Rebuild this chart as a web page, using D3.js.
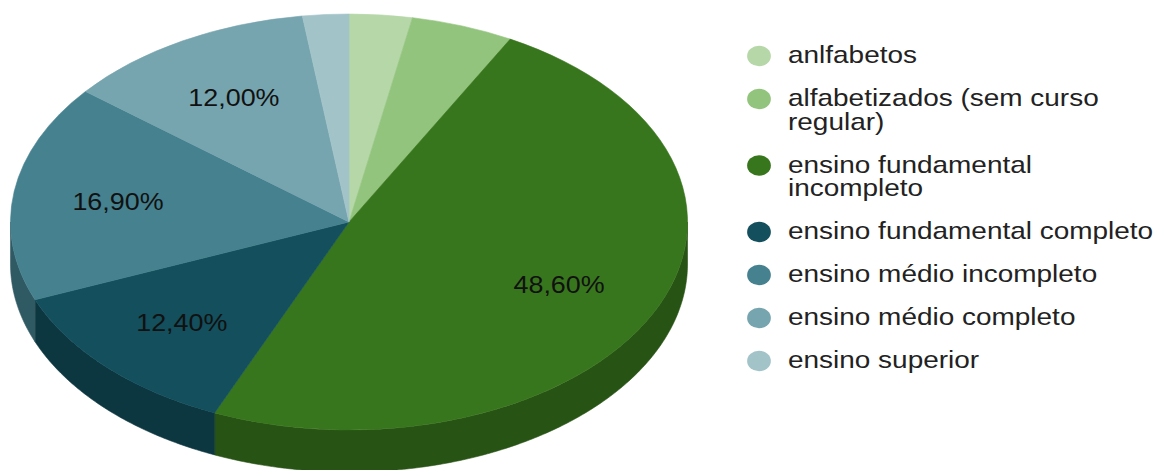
<!DOCTYPE html>
<html>
<head>
<meta charset="utf-8">
<script src="https://cdn.jsdelivr.net/npm/d3@7"></script>
<style>
  html, body { margin: 0; padding: 0; background: #ffffff; }
  svg { display: block; }
  text { font-family: "Liberation Sans", Arial, sans-serif; }
</style>
</head>
<body>
<svg id="chart" width="1159" height="470"></svg>
<script>
// Escolaridade: share of each education level (%)
const categories = [
  "anlfabetos",
  "alfabetizados (sem curso regular)",
  "ensino fundamental incompleto",
  "ensino fundamental completo",
  "ensino médio incompleto",
  "ensino médio completo",
  "ensino superior"
];
const values = [3.0, 4.9, 48.6, 12.4, 16.9, 12.0, 2.2];
const colors = ["#b6d7a8", "#93c47d", "#38761d", "#134f5c", "#45818e", "#76a5af", "#a2c4c9"];

// Geometry of the tilted pie
const W = 1159, H = 470;
const cx = 349, cy = 222, rx = 338.5, ry = 208, depth = 42;
const labelRadius = 0.69;      // slice labels sit at this fraction of the radius
const labelMinShare = 6;       // smaller slices get no label
const fontSize = 24;
const textStretch = 1.12;      // horizontal stretch of slice labels
const legendStretch = 1.165;   // horizontal stretch of the legend

const ptBR = d3.formatLocale({decimal: ",", thousands: ".", grouping: [3], currency: ["R$", ""]});
const fmt = v => ptBR.format(".2f")(v) + "%";

const svg = d3.select("#chart");
const total = d3.sum(values);
const arcs = d3.pie().sort(null).value(d => d)(values);

const ex = a => cx + rx * Math.sin(a);
const ey = a => cy - ry * Math.cos(a);

// Side walls: only the front half of the rim (angles between PI/2 and 3PI/2) is visible
function sidePath(a0, a1) {
  const s = Math.max(a0, Math.PI / 2), e = Math.min(a1, 3 * Math.PI / 2);
  if (s >= e) return null;
  const n = Math.max(2, Math.ceil((e - s) / 0.01));
  const top = d3.range(n + 1).map(i => s + (e - s) * i / n);
  const pts = top.map(a => [ex(a), ey(a)])
    .concat(top.slice().reverse().map(a => [ex(a), ey(a) + depth]));
  return "M" + pts.map(p => p[0].toFixed(2) + "," + p[1].toFixed(2)).join("L") + "Z";
}

const sides = svg.append("g").attr("class", "sides");
arcs.forEach((d, i) => {
  const p = sidePath(d.startAngle, d.endAngle);
  if (!p) return;
  const c = d3.rgb(colors[i]).darker(1).formatHex();
  sides.append("path").attr("d", p).attr("fill", c).attr("stroke", c).attr("stroke-width", 0.6);
});

// Top faces: circular arcs squashed into the ellipse
const arcGen = d3.arc().innerRadius(0).outerRadius(rx);
svg.append("g")
  .attr("transform", `translate(${cx},${cy}) scale(1,${ry / rx})`)
  .selectAll("path")
  .data(arcs)
  .join("path")
  .attr("d", arcGen)
  .attr("fill", (d, i) => colors[i])
  .attr("stroke", (d, i) => colors[i])
  .attr("stroke-width", 0.6)
  .attr("vector-effect", "non-scaling-stroke");

// Slice labels
svg.append("g")
  .selectAll("text")
  .data(arcs.filter(d => d.data / total * 100 >= labelMinShare))
  .join("text")
  .attr("transform", d => {
    const m = (d.startAngle + d.endAngle) / 2;
    const x = cx + labelRadius * rx * Math.sin(m);
    const y = cy - labelRadius * ry * Math.cos(m);
    return `translate(${x},${y}) scale(${textStretch},1)`;
  })
  .attr("text-anchor", "middle")
  .attr("dy", "0.36em")
  .attr("font-size", fontSize)
  .attr("fill", "#111111")
  .text(d => fmt(d.data));

// Legend with wrapped entries
const legendX = 759, legendTextX = 788, legendTop = 56;
const rowGap = 43, linePitch = 23.5, maxTextWidth = 378;
const legend = svg.append("g")
  .attr("transform", `translate(${legendX},0) scale(${legendStretch},1)`);

let y = legendTop;
categories.forEach((name, i) => {
  legend.append("circle")
    .attr("cx", 0).attr("cy", y).attr("r", 10.2)
    .attr("fill", colors[i]);

  const t = legend.append("text")
    .attr("x", (legendTextX - legendX) / legendStretch)
    .attr("y", y + 7.5)
    .attr("font-size", fontSize)
    .attr("fill", "#222222");

  const words = name.split(" ");
  let line = [];
  let lines = 0;
  let tspan = t.append("tspan").attr("x", (legendTextX - legendX) / legendStretch).attr("dy", 0);
  words.forEach(w => {
    line.push(w);
    tspan.text(line.join(" "));
    if (tspan.node().getComputedTextLength() * legendStretch > maxTextWidth && line.length > 1) {
      line.pop();
      tspan.text(line.join(" "));
      line = [w];
      lines++;
      tspan = t.append("tspan")
        .attr("x", (legendTextX - legendX) / legendStretch)
        .attr("dy", linePitch)
        .text(w);
    }
  });
  y += rowGap + lines * linePitch;
});
</script>
</body>
</html>
